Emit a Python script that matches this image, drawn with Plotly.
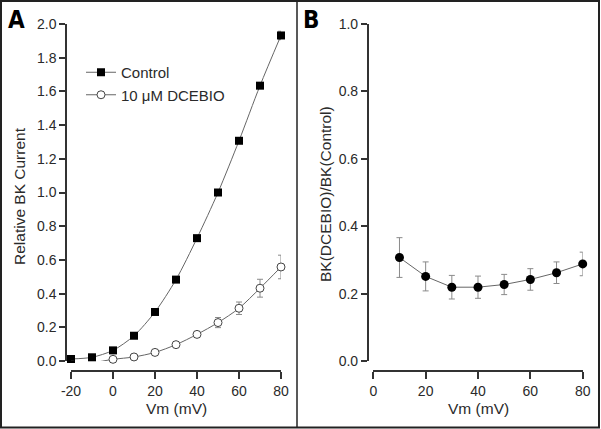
import plotly.graph_objects as go

W, H = 601, 429

# ---- Panel A data ----
vm_a = [-20, -10, 0, 10, 20, 30, 40, 50, 60, 70, 80]
control = [0.012, 0.022, 0.063, 0.150, 0.291, 0.483, 0.729, 1.000, 1.307, 1.634, 1.932]
control_err = [0.005, 0.005, 0.006, 0.008, 0.008, 0.010, 0.010, 0.012, 0.014, 0.016, 0.025]
dcebio = [-0.008, -0.010, 0.010, 0.024, 0.051, 0.097, 0.158, 0.228, 0.313, 0.432, 0.558]
dcebio_err = [0.006, 0.006, 0.006, 0.008, 0.010, 0.012, 0.016, 0.030, 0.037, 0.053, 0.070]

# ---- Panel B data ----
vm_b = [10, 20, 30, 40, 50, 60, 70, 80]
ratio = [0.307, 0.251, 0.219, 0.219, 0.227, 0.242, 0.262, 0.288]
ratio_err = [0.059, 0.043, 0.035, 0.033, 0.030, 0.032, 0.032, 0.035]

xticks_a = [-20, 0, 20, 40, 60, 80]
xticklabels_a = ["-20", "0", "20", "40", "60", "80"]
xticks_b = [0, 20, 40, 60, 80]
yticks_a = [0.0, 0.2, 0.4, 0.6, 0.8, 1.0, 1.2, 1.4, 1.6, 1.8, 2.0]
yticks_b = [0.0, 0.2, 0.4, 0.6, 0.8, 1.0]

FONT = "Liberation Sans, Arial, sans-serif"
TXT = "#2a2a2a"
AX = "#333333"
LINE = "#666666"
ERR = "#8a8a8a"


def px(x):
    return x / W


def py(y):
    return 1 - y / H


fig = go.Figure()

fig.add_trace(go.Scatter(
    x=vm_a, y=control, mode="lines+markers", name="Control",
    line=dict(color=LINE, width=1, shape="spline", smoothing=0.8),
    marker=dict(symbol="square", size=8, color="black", line=dict(width=0)),
    error_y=dict(type="data", array=control_err, color=ERR, thickness=1, width=3),
    xaxis="x", yaxis="y", cliponaxis=False,
))
fig.add_trace(go.Scatter(
    x=vm_a, y=dcebio, mode="lines+markers", name="10 \u03bcM DCEBIO",
    line=dict(color=LINE, width=1, shape="spline", smoothing=0.8),
    marker=dict(symbol="circle", size=8, color="white", line=dict(width=1, color="#444444")),
    error_y=dict(type="data", array=dcebio_err, color=ERR, thickness=1, width=3),
    xaxis="x", yaxis="y", cliponaxis=False,
))
fig.add_trace(go.Scatter(
    x=vm_b, y=ratio, mode="lines+markers", name="ratio", showlegend=False,
    line=dict(color=LINE, width=1),
    marker=dict(symbol="circle", size=9, color="black"),
    error_y=dict(type="data", array=ratio_err, color=ERR, thickness=1, width=3),
    xaxis="x2", yaxis="y2", cliponaxis=False,
))

axis_common = dict(
    showgrid=False, zeroline=False, showline=True, linecolor=AX, linewidth=1.5,
    ticks="outside", tickcolor=AX, tickwidth=1.5, automargin=False,
    tickfont=dict(family=FONT, size=14, color=TXT),
)

fig.update_layout(
    width=W, height=H, margin=dict(l=0, r=0, t=0, b=0, autoexpand=False),
    paper_bgcolor="white", plot_bgcolor="rgba(0,0,0,0)",
    xaxis=dict(domain=[px(71), px(281)], range=[-20, 80], anchor="free", position=py(371),
               tickvals=xticks_a, ticktext=xticklabels_a, ticklen=7, **axis_common),
    yaxis=dict(domain=[py(361), py(24)], range=[0, 2], anchor="free", position=px(66),
               tickvals=yticks_a, tickformat=".1f", ticklen=6, **axis_common),
    xaxis2=dict(domain=[px(373.3), px(582.7)], range=[0, 80], anchor="free", position=py(371),
                tickvals=xticks_b, ticklen=7, **axis_common),
    yaxis2=dict(domain=[py(361), py(24)], range=[0, 1], anchor="free", position=px(367.7),
                tickvals=yticks_b, tickformat=".1f", ticklen=6, **axis_common),
    legend=dict(x=px(81), y=py(56), xanchor="left", yanchor="top",
                font=dict(family=FONT, size=15, color=TXT), bgcolor="rgba(0,0,0,0)",
                tracegroupgap=0, itemwidth=30),
    showlegend=True,
)

title_font = dict(family=FONT, size=15.5, color=TXT)
fig.add_annotation(x=px(176), y=py(408), xref="paper", yref="paper", text="Vm (mV)",
                   showarrow=False, font=title_font, xanchor="center", yanchor="middle")
fig.add_annotation(x=px(478), y=py(408), xref="paper", yref="paper", text="Vm (mV)",
                   showarrow=False, font=title_font, xanchor="center", yanchor="middle")
fig.add_annotation(x=px(19), y=py(196), xref="paper", yref="paper", text="Relative BK Current",
                   showarrow=False, font=title_font, textangle=-90, xanchor="center", yanchor="middle")
fig.add_annotation(x=px(325), y=py(194), xref="paper", yref="paper", text="BK(DCEBIO)/BK(Control)",
                   showarrow=False, font=title_font, textangle=-90, xanchor="center", yanchor="middle")

label_font = dict(family="Liberation Sans Narrow, DejaVu Sans Condensed, sans-serif", size=24, color="black")
fig.add_annotation(x=px(16), y=py(20), xref="paper", yref="paper", text="<b>A</b>",
                   showarrow=False, font=label_font, xanchor="center", yanchor="middle")
fig.add_annotation(x=px(311), y=py(20), xref="paper", yref="paper", text="<b>B</b>",
                   showarrow=False, font=label_font, xanchor="center", yanchor="middle")

# frame and divider
fig.add_shape(type="rect", xref="paper", yref="paper", x0=px(1), x1=px(599), y0=py(427.5), y1=py(1),
              line=dict(color="#222222", width=2))
fig.add_shape(type="line", xref="paper", yref="paper", x0=px(297), x1=px(297), y0=py(427.5), y1=py(1),
              line=dict(color="#222222", width=1.5))

fig.write_html("out.html", config={"displayModeBar": False},
               post_script="document.body.style.margin='0px';")
